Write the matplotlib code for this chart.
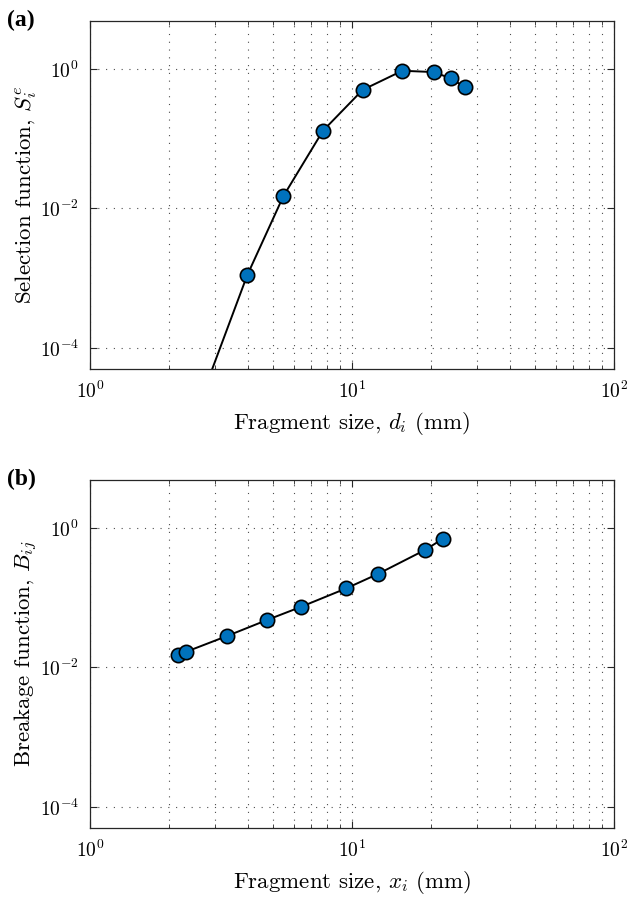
import matplotlib
matplotlib.use("Agg")
import matplotlib.pyplot as plt
from matplotlib.ticker import LogLocator, NullFormatter, FixedLocator

plt.rcParams['font.family'] = 'serif'
plt.rcParams['font.serif'] = ['cmr10', 'DejaVu Serif']
plt.rcParams['mathtext.fontset'] = 'cm'
plt.rcParams['axes.unicode_minus'] = False
plt.rcParams['axes.formatter.use_mathtext'] = True

# Panel (a): selection function
sel_size = [3.98, 5.47, 7.75, 10.98, 15.56, 20.55, 23.8, 26.9]
sel_value = [1.1e-3, 0.015, 0.13, 0.50, 0.94, 0.90, 0.73, 0.55]
sel_line_x = [2.8] + sel_size
sel_line_y = [3.2e-5] + sel_value

# Panel (b): breakage function
brk_size = [2.16, 2.32, 3.34, 4.74, 6.36, 9.51, 12.6, 19.05, 22.2]
brk_value = [0.0150, 0.0167, 0.0283, 0.0479, 0.0734, 0.136, 0.220, 0.485, 0.697]

panel_labels = ['(a)', '(b)']
xlabels = [r'Fragment size, $d_i$ (mm)', r'Fragment size, $x_i$ (mm)']
ylabels = [r'Selection function, $S_i^e$', r'Breakage function, $B_{ij}$']

W, H = 628, 899
fig = plt.figure(figsize=(W / 100, H / 100), dpi=100)

axes_px = [(90, 21, 614, 369), (90, 480, 614, 828)]
marker_color = '#0072BD'
frame_color = '0.15'

datasets = [
    (sel_line_x, sel_line_y, sel_size, sel_value),
    (brk_size, brk_value, brk_size, brk_value),
]

for i, (lx, ly, px, py) in enumerate(datasets):
    l, t, r, b = axes_px[i]
    ax = fig.add_axes([l / W, 1 - b / H, (r - l) / W, (b - t) / H])
    ax.set_xscale('log')
    ax.set_yscale('log')
    ax.set_xlim(1, 100)
    ax.set_ylim(10 ** -4.3, 10 ** 0.686)
    ax.plot(lx, ly, '-', color='black', lw=1.4, zorder=3, clip_on=True)
    ax.plot(px, py, 'o', ms=10.3, mfc=marker_color, mec='black', mew=1.2, zorder=4)

    ax.xaxis.set_major_locator(LogLocator(base=10, numticks=10))
    ax.xaxis.set_minor_locator(LogLocator(base=10, subs=range(2, 10), numticks=20))
    ax.xaxis.set_minor_formatter(NullFormatter())
    ax.yaxis.set_major_locator(FixedLocator([1e-4, 1e-2, 1e0]))
    ax.yaxis.set_minor_locator(FixedLocator([]))

    ax.grid(True, which='major', axis='both', linestyle=(0, (1, 6)), color='0.3', lw=0.8)
    ax.grid(True, which='minor', axis='x', linestyle=(0, (1, 6)), color='0.3', lw=0.8)
    ax.set_axisbelow(True)

    ax.tick_params(which='both', direction='in', top=True, right=True,
                   color=frame_color, labelsize=14)
    ax.tick_params(which='major', length=5, width=0.8, pad=8)
    ax.tick_params(which='minor', length=3, width=0.6)
    for s in ax.spines.values():
        s.set_color(frame_color)
        s.set_linewidth(0.9)

    ax.set_xlabel(xlabels[i], fontsize=16.5, labelpad=6)
    ax.set_ylabel(ylabels[i], fontsize=16.5, va='center')
    ax.yaxis.set_label_coords(-0.122, 0.5)
    fig.text(7 / W, 1 - (t - 1) / H, panel_labels[i], fontsize=17, fontweight='bold',
             family='Liberation Serif', ha='left', va='center')

fig.savefig('out.png', dpi=100)
